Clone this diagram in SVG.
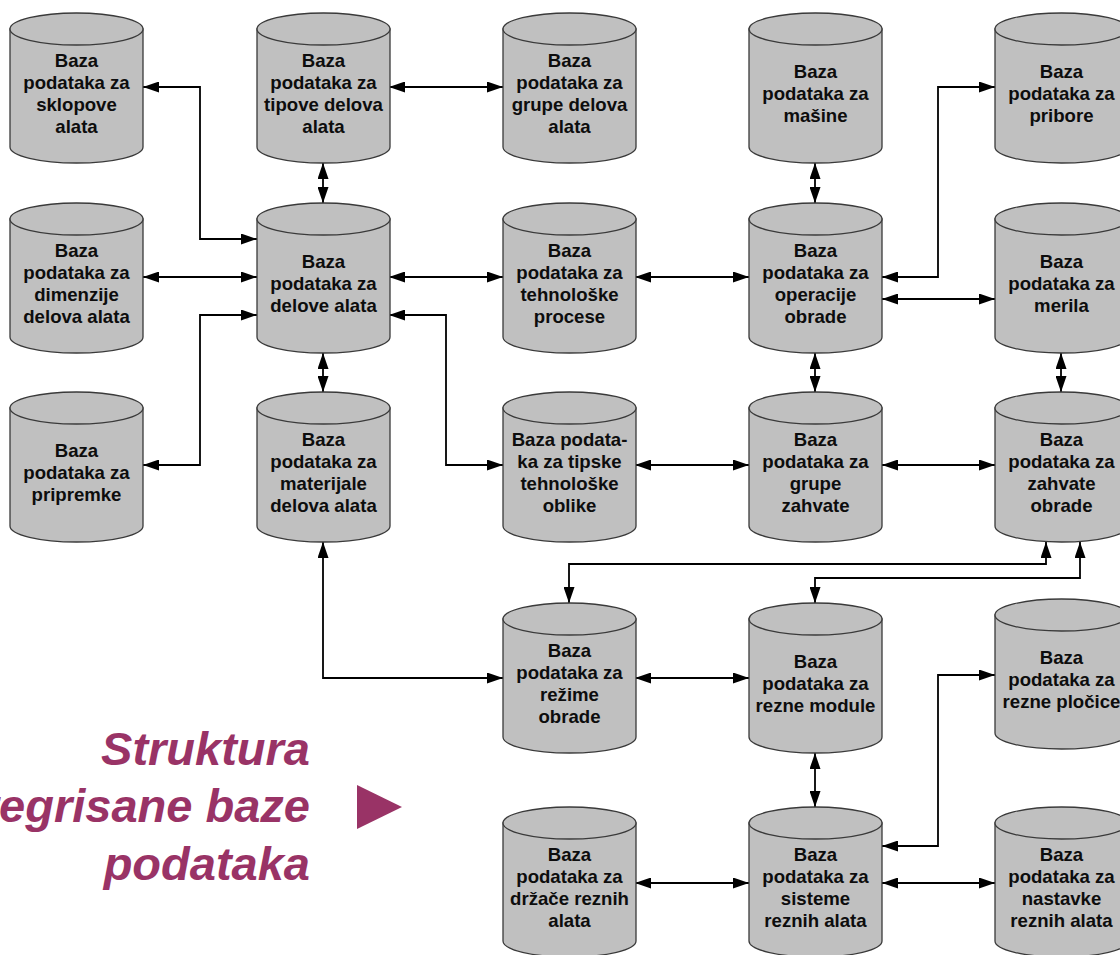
<svg xmlns="http://www.w3.org/2000/svg" xmlns:xlink="http://www.w3.org/1999/xlink" width="1120" height="955" viewBox="0 0 1120 955">
  <style>
    .body { fill: #c0c0c0; stroke: #3a3a3a; stroke-width: 1.3; }
    .lbl { font-family: "Liberation Sans", Arial, sans-serif; font-weight: bold; font-size: 18.6px; fill: #0d0d0d; text-anchor: middle; }
    .conn { fill: none; stroke: #000; stroke-width: 1.8; marker-start: url(#arr); marker-end: url(#arr); }
    .title { font-family: "Liberation Sans", Arial, sans-serif; font-weight: bold; font-style: italic; font-size: 47px; fill: #993366; text-anchor: end; }
  </style>
  <defs>
    <marker id="arr" markerUnits="userSpaceOnUse" markerWidth="16" markerHeight="11" refX="16" refY="5.5" orient="auto-start-reverse">
      <path d="M0,0 L16,5.5 L0,11 Z" fill="#000"/>
    </marker>
    <!-- database cylinder, 133 x 150 -->
    <g id="cyl">
      <path class="body" d="M0,16 V134 A66.5,16 0 0 0 133,134 V16 Z"/>
      <ellipse class="body" cx="66.5" cy="16" rx="66.5" ry="16"/>
    </g>
  </defs>
  <rect width="1120" height="955" fill="#fff"/>

  <!-- connectors -->
  <g id="connectors">
    <path class="conn" d="M143,87 H200 V239 H257"/>
    <path class="conn" d="M389,87 H503"/>
    <path class="conn" d="M323,163 V203"/>
    <path class="conn" d="M815,163 V203"/>
    <path class="conn" d="M882,277 H938 V87 H995"/>
    <path class="conn" d="M143,277 H257"/>
    <path class="conn" d="M143,465 H200 V315 H257"/>
    <path class="conn" d="M389,277 H503"/>
    <path class="conn" d="M635,277 H749"/>
    <path class="conn" d="M882,299 H995"/>
    <path class="conn" d="M389,315 H446 V465 H503"/>
    <path class="conn" d="M323,353 V392"/>
    <path class="conn" d="M635,465 H749"/>
    <path class="conn" d="M815,353 V392"/>
    <path class="conn" d="M1061,353 V392"/>
    <path class="conn" d="M882,465 H995"/>
    <path class="conn" d="M323,542 V678 H503"/>
    <path class="conn" d="M1046,542 V564 H569 V603"/>
    <path class="conn" d="M1080,542 V578 H815 V603"/>
    <path class="conn" d="M635,678 H749"/>
    <path class="conn" d="M815,753 V807"/>
    <path class="conn" d="M882,846 H938 V675 H995"/>
    <path class="conn" d="M635,883 H749"/>
    <path class="conn" d="M882,883 H995"/>
  </g>

  <!-- row 1 -->
  <g id="db-sklopovi" transform="translate(10,13)">
    <use xlink:href="#cyl"/>
    <text class="lbl" x="66.5" y="54">Baza</text>
    <text class="lbl" x="66.5" y="76">podataka za</text>
    <text class="lbl" x="66.5" y="98">sklopove</text>
    <text class="lbl" x="66.5" y="120">alata</text>
  </g>
  <g id="db-tipovi" transform="translate(257,13)">
    <use xlink:href="#cyl"/>
    <text class="lbl" x="66.5" y="54">Baza</text>
    <text class="lbl" x="66.5" y="76">podataka za</text>
    <text class="lbl" x="66.5" y="98">tipove delova</text>
    <text class="lbl" x="66.5" y="120">alata</text>
  </g>
  <g id="db-grupe-delova" transform="translate(503,13)">
    <use xlink:href="#cyl"/>
    <text class="lbl" x="66.5" y="54">Baza</text>
    <text class="lbl" x="66.5" y="76">podataka za</text>
    <text class="lbl" x="66.5" y="98">grupe delova</text>
    <text class="lbl" x="66.5" y="120">alata</text>
  </g>
  <g id="db-masine" transform="translate(749,13)">
    <use xlink:href="#cyl"/>
    <text class="lbl" x="66.5" y="65">Baza</text>
    <text class="lbl" x="66.5" y="87">podataka za</text>
    <text class="lbl" x="66.5" y="109">mašine</text>
  </g>
  <g id="db-pribori" transform="translate(995,13)">
    <use xlink:href="#cyl"/>
    <text class="lbl" x="66.5" y="65">Baza</text>
    <text class="lbl" x="66.5" y="87">podataka za</text>
    <text class="lbl" x="66.5" y="109">pribore</text>
  </g>

  <!-- row 2 -->
  <g id="db-dimenzije" transform="translate(10,203)">
    <use xlink:href="#cyl"/>
    <text class="lbl" x="66.5" y="54">Baza</text>
    <text class="lbl" x="66.5" y="76">podataka za</text>
    <text class="lbl" x="66.5" y="98">dimenzije</text>
    <text class="lbl" x="66.5" y="120">delova alata</text>
  </g>
  <g id="db-delovi" transform="translate(257,203)">
    <use xlink:href="#cyl"/>
    <text class="lbl" x="66.5" y="65">Baza</text>
    <text class="lbl" x="66.5" y="87">podataka za</text>
    <text class="lbl" x="66.5" y="109">delove alata</text>
  </g>
  <g id="db-procesi" transform="translate(503,203)">
    <use xlink:href="#cyl"/>
    <text class="lbl" x="66.5" y="54">Baza</text>
    <text class="lbl" x="66.5" y="76">podataka za</text>
    <text class="lbl" x="66.5" y="98">tehnološke</text>
    <text class="lbl" x="66.5" y="120">procese</text>
  </g>
  <g id="db-operacije" transform="translate(749,203)">
    <use xlink:href="#cyl"/>
    <text class="lbl" x="66.5" y="54">Baza</text>
    <text class="lbl" x="66.5" y="76">podataka za</text>
    <text class="lbl" x="66.5" y="98">operacije</text>
    <text class="lbl" x="66.5" y="120">obrade</text>
  </g>
  <g id="db-merila" transform="translate(995,203)">
    <use xlink:href="#cyl"/>
    <text class="lbl" x="66.5" y="65">Baza</text>
    <text class="lbl" x="66.5" y="87">podataka za</text>
    <text class="lbl" x="66.5" y="109">merila</text>
  </g>

  <!-- row 3 -->
  <g id="db-pripremci" transform="translate(10,392)">
    <use xlink:href="#cyl"/>
    <text class="lbl" x="66.5" y="65">Baza</text>
    <text class="lbl" x="66.5" y="87">podataka za</text>
    <text class="lbl" x="66.5" y="109">pripremke</text>
  </g>
  <g id="db-materijali" transform="translate(257,392)">
    <use xlink:href="#cyl"/>
    <text class="lbl" x="66.5" y="54">Baza</text>
    <text class="lbl" x="66.5" y="76">podataka za</text>
    <text class="lbl" x="66.5" y="98">materijale</text>
    <text class="lbl" x="66.5" y="120">delova alata</text>
  </g>
  <g id="db-tipske-oblike" transform="translate(503,392)">
    <use xlink:href="#cyl"/>
    <text class="lbl" x="66.5" y="54">Baza podata-</text>
    <text class="lbl" x="66.5" y="76">ka za tipske</text>
    <text class="lbl" x="66.5" y="98">tehnološke</text>
    <text class="lbl" x="66.5" y="120">oblike</text>
  </g>
  <g id="db-grupe-zahvata" transform="translate(749,392)">
    <use xlink:href="#cyl"/>
    <text class="lbl" x="66.5" y="54">Baza</text>
    <text class="lbl" x="66.5" y="76">podataka za</text>
    <text class="lbl" x="66.5" y="98">grupe</text>
    <text class="lbl" x="66.5" y="120">zahvate</text>
  </g>
  <g id="db-zahvati" transform="translate(995,392)">
    <use xlink:href="#cyl"/>
    <text class="lbl" x="66.5" y="54">Baza</text>
    <text class="lbl" x="66.5" y="76">podataka za</text>
    <text class="lbl" x="66.5" y="98">zahvate</text>
    <text class="lbl" x="66.5" y="120">obrade</text>
  </g>

  <!-- row 4 -->
  <g id="db-rezimi" transform="translate(503,603)">
    <use xlink:href="#cyl"/>
    <text class="lbl" x="66.5" y="54">Baza</text>
    <text class="lbl" x="66.5" y="76">podataka za</text>
    <text class="lbl" x="66.5" y="98">režime</text>
    <text class="lbl" x="66.5" y="120">obrade</text>
  </g>
  <g id="db-moduli" transform="translate(749,603)">
    <use xlink:href="#cyl"/>
    <text class="lbl" x="66.5" y="65">Baza</text>
    <text class="lbl" x="66.5" y="87">podataka za</text>
    <text class="lbl" x="66.5" y="109">rezne module</text>
  </g>
  <g id="db-plocice" transform="translate(995,599)">
    <use xlink:href="#cyl"/>
    <text class="lbl" x="66.5" y="65">Baza</text>
    <text class="lbl" x="66.5" y="87">podataka za</text>
    <text class="lbl" x="66.5" y="109">rezne pločice</text>
  </g>

  <!-- row 5 -->
  <g id="db-drzaci" transform="translate(503,807)">
    <use xlink:href="#cyl"/>
    <text class="lbl" x="66.5" y="54">Baza</text>
    <text class="lbl" x="66.5" y="76">podataka za</text>
    <text class="lbl" x="66.5" y="98">držače reznih</text>
    <text class="lbl" x="66.5" y="120">alata</text>
  </g>
  <g id="db-sistemi" transform="translate(749,807)">
    <use xlink:href="#cyl"/>
    <text class="lbl" x="66.5" y="54">Baza</text>
    <text class="lbl" x="66.5" y="76">podataka za</text>
    <text class="lbl" x="66.5" y="98">sisteme</text>
    <text class="lbl" x="66.5" y="120">reznih alata</text>
  </g>
  <g id="db-nastavci" transform="translate(995,807)">
    <use xlink:href="#cyl"/>
    <text class="lbl" x="66.5" y="54">Baza</text>
    <text class="lbl" x="66.5" y="76">podataka za</text>
    <text class="lbl" x="66.5" y="98">nastavke</text>
    <text class="lbl" x="66.5" y="120">reznih alata</text>
  </g>

  <!-- caption -->
  <g id="caption">
    <text class="title" x="310" y="765">Struktura</text>
    <text class="title" x="310" y="822">integrisane baze</text>
    <text class="title" x="310" y="880">podataka</text>
    <polygon points="357,785 402,807 357,829" fill="#993366"/>
  </g>
</svg>
